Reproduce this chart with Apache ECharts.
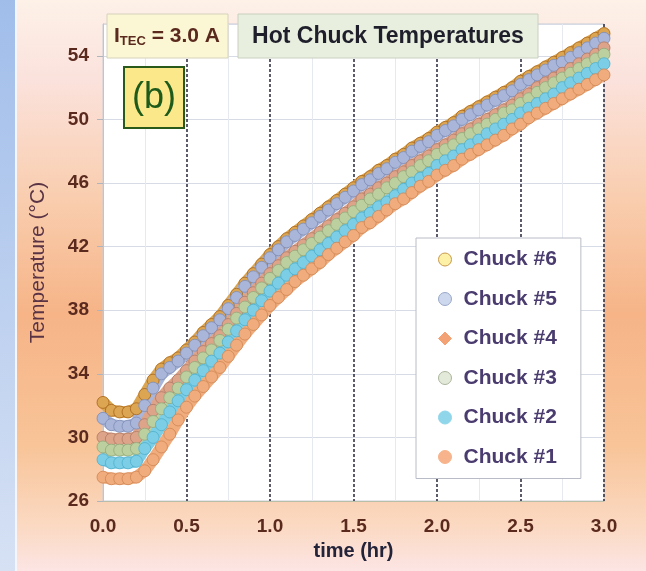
<!DOCTYPE html>
<html>
<head>
<meta charset="utf-8">
<script src="https://cdn.jsdelivr.net/npm/echarts@6/dist/echarts.min.js"></script>
<style>
html, body { margin: 0; padding: 0; }
#chart { width: 646px; height: 571px; }
</style>
</head>
<body>
<div id="chart"></div>
<script>
// time in hours
var hours = [0, 0.05, 0.1, 0.15, 0.2, 0.25, 0.3, 0.35, 0.4, 0.45,
	0.5, 0.55, 0.6, 0.65, 0.7, 0.75, 0.8, 0.85, 0.9, 0.95,
	1, 1.05, 1.1, 1.15, 1.2, 1.25, 1.3, 1.35, 1.4, 1.45,
	1.5, 1.55, 1.6, 1.65, 1.7, 1.75, 1.8, 1.85, 1.9, 1.95,
	2, 2.05, 2.1, 2.15, 2.2, 2.25, 2.3, 2.35, 2.4, 2.45,
	2.5, 2.55, 2.6, 2.65, 2.7, 2.75, 2.8, 2.85, 2.9, 2.95,
	3];

var chuck6 = [32.2, 31.7, 31.6, 31.6, 31.8, 32.7, 33.6, 34.3, 34.7, 35.0,
	35.5, 36.0, 36.6, 37.1, 37.6, 38.3, 39.0, 39.7, 40.3, 40.9,
	41.5, 42.0, 42.5, 42.9, 43.3, 43.7, 44.1, 44.5, 44.9, 45.3,
	45.7, 46.1, 46.4, 46.8, 47.1, 47.5, 47.8, 48.2, 48.5, 48.8,
	49.2, 49.5, 49.8, 50.2, 50.5, 50.8, 51.1, 51.4, 51.7, 52.0,
	52.4, 52.7, 53.0, 53.3, 53.6, 53.9, 54.2, 54.5, 54.8, 55.1,
	55.4];
var chuck5 = [31.2, 30.8, 30.7, 30.7, 30.9, 32.0, 33.1, 34.0, 34.4, 34.8,
	35.3, 35.8, 36.4, 36.9, 37.4, 38.1, 38.8, 39.5, 40.1, 40.7,
	41.3, 41.8, 42.3, 42.7, 43.1, 43.5, 43.9, 44.3, 44.7, 45.1,
	45.5, 45.9, 46.2, 46.6, 46.9, 47.3, 47.6, 48.0, 48.3, 48.6,
	49.0, 49.3, 49.6, 50.0, 50.3, 50.6, 50.9, 51.2, 51.5, 51.8,
	52.2, 52.5, 52.8, 53.1, 53.4, 53.6, 53.9, 54.2, 54.5, 54.8,
	55.1];
var chuck4 = [30.0, 29.9, 29.9, 29.9, 30.0, 30.8, 31.7, 32.5, 33.1, 33.6,
	34.2, 34.8, 35.4, 35.9, 36.4, 37.1, 37.8, 38.5, 39.1, 39.7,
	40.3, 40.8, 41.3, 41.7, 42.1, 42.5, 42.9, 43.3, 43.7, 44.1,
	44.5, 45.0, 45.3, 45.7, 46.0, 46.4, 46.7, 47.1, 47.4, 47.7,
	48.1, 48.4, 48.7, 49.1, 49.4, 49.7, 50.0, 50.3, 50.6, 50.9,
	51.3, 51.6, 52.0, 52.3, 52.6, 52.9, 53.2, 53.5, 53.8, 54.1,
	54.5];
var chuck3 = [29.4, 29.2, 29.2, 29.2, 29.3, 30.2, 31.0, 31.8, 32.5, 33.1,
	33.8, 34.4, 35.0, 35.5, 36.1, 36.8, 37.5, 38.2, 38.8, 39.4,
	40.0, 40.5, 41.0, 41.4, 41.8, 42.2, 42.6, 43.0, 43.4, 43.8,
	44.2, 44.6, 45.0, 45.3, 45.7, 46.0, 46.4, 46.7, 47.1, 47.4,
	47.8, 48.1, 48.4, 48.8, 49.1, 49.4, 49.7, 50.0, 50.4, 50.6,
	51.0, 51.3, 51.7, 52.0, 52.3, 52.6, 52.9, 53.2, 53.5, 53.8,
	54.1];
var chuck2 = [28.6, 28.4, 28.4, 28.4, 28.5, 29.3, 30.0, 30.8, 31.6, 32.3,
	33.0, 33.6, 34.2, 34.8, 35.3, 36.0, 36.7, 37.4, 38.0, 38.6,
	39.2, 39.7, 40.2, 40.6, 41.0, 41.4, 41.8, 42.2, 42.6, 43.0,
	43.4, 43.8, 44.1, 44.5, 44.8, 45.2, 45.6, 46.0, 46.3, 46.6,
	47.1, 47.4, 47.7, 48.1, 48.4, 48.7, 49.1, 49.4, 49.7, 50.0,
	50.4, 50.7, 51.0, 51.3, 51.6, 52.0, 52.3, 52.6, 52.9, 53.2,
	53.5];
var chuck1 = [27.5, 27.4, 27.4, 27.4, 27.5, 27.9, 28.6, 29.4, 30.2, 31.1,
	31.9, 32.6, 33.2, 33.8, 34.4, 35.1, 35.8, 36.5, 37.1, 37.7,
	38.3, 38.8, 39.3, 39.8, 40.2, 40.6, 41.0, 41.5, 41.9, 42.3,
	42.7, 43.2, 43.5, 43.9, 44.3, 44.7, 45.0, 45.4, 45.8, 46.1,
	46.5, 46.8, 47.1, 47.5, 47.8, 48.1, 48.4, 48.7, 49.0, 49.4,
	49.7, 50.1, 50.4, 50.7, 51.0, 51.3, 51.6, 51.9, 52.2, 52.5,
	52.8];

var names = ['Chuck #6', 'Chuck #5', 'Chuck #4', 'Chuck #3', 'Chuck #2', 'Chuck #1'];
var values = [chuck6, chuck5, chuck4, chuck3, chuck2, chuck1];

var FONT = 'Liberation Sans, Arial, sans-serif';
// band colours in the plot, and paler ones for the legend
var fills = ['#dba552', '#a9b5d9', '#dda48a', '#bccf9f', '#7ccde6', '#f0ac7c'];
var edges = ['#a8661a', '#7f8db5', '#b07a64', '#93a87a', '#4fb0cc', '#d08656'];
var legendFills = ['#fdf1a8', '#cdd8ee', '#f2a275', '#e4eada', '#8fd6ea', '#f7b48c'];
var legendEdges = ['#c99a4a', '#9aa9c8', '#f2a275', '#aab59c', '#8fd6ea', '#f7b48c'];
var legendIcons = ['circle', 'circle', 'diamond', 'circle', 'circle', 'circle'];

var chart = echarts.init(document.getElementById('chart'));

var series = [];
var legendData = [];
for (var s = 0; s < names.length; s++) {
	var pts = [];
	for (var i = 0; i < hours.length; i++) {
		pts.push([hours[i], values[s][i]]);
	}
	series.push({
		name : names[s],
		type : 'line',
		data : pts,
		symbol : 'circle',
		symbolSize : 12,
		showAllSymbol : true,
		clip : false,
		z : 2,
		lineStyle : { width : 12, color : fills[s], cap : 'round', join : 'round' },
		itemStyle : { color : fills[s], borderColor : edges[s], borderWidth : 0.8 },
		emphasis : { disabled : true }
	});
	legendData.push({
		name : names[s],
		icon : legendIcons[s],
		itemStyle : { color : legendFills[s], borderColor : legendEdges[s], borderWidth : 1 }
	});
}

var option = {
	animation : false,
	backgroundColor : new echarts.graphic.LinearGradient(0, 0, 0, 1, [
		{ offset : 0, color : '#fdf1e8' },
		{ offset : 0.14, color : '#fbe2dc' },
		{ offset : 0.35, color : '#f9cdae' },
		{ offset : 0.55, color : '#f6b487' },
		{ offset : 0.78, color : '#f8c498' },
		{ offset : 0.92, color : '#fbd9c2' },
		{ offset : 1, color : '#fce5e4' }
	]),
	graphic : [
		{ type : 'rect', z : -10, shape : { x : 0, y : 0, width : 15, height : 571 },
			style : { fill : new echarts.graphic.LinearGradient(0, 0, 0, 1, [
				{ offset : 0, color : '#a0bdea' }, { offset : 1, color : '#d6e1f4' } ]) } },
		{ type : 'rect', z : -10, shape : { x : 15, y : 0, width : 2, height : 571 },
			style : { fill : '#f4f6fb' } },
		{ type : 'rect', z : 100, shape : { x : 107, y : 14, width : 121, height : 44 },
			style : { fill : '#fbf7d4', stroke : '#d6d2bc', lineWidth : 1 } },
		{ type : 'text', z : 101, x : 167, y : 36,
			style : {
				text : '{a|I}{b|TEC}{a| = 3.0 A}',
				align : 'center', verticalAlign : 'middle',
				rich : {
					a : { fontSize : 21, fontWeight : 'bold', fontFamily : FONT, fill : '#5b2a1e' },
					b : { fontSize : 13, fontWeight : 'bold', fontFamily : FONT, fill : '#5b2a1e', padding : [10, 0, 0, 0] }
				}
			} },
		{ type : 'rect', z : 100, shape : { x : 238, y : 14, width : 300, height : 44 },
			style : { fill : '#e9efdf', stroke : '#c9d0c0', lineWidth : 1 } },
		{ type : 'text', z : 101, x : 388, y : 37,
			style : { text : 'Hot Chuck Temperatures', align : 'center', verticalAlign : 'middle',
				fontSize : 23, fontWeight : 'bold', fontFamily : FONT, fill : '#1f1f2b' } },
		{ type : 'rect', z : 100, shape : { x : 124, y : 67, width : 60, height : 61 },
			style : { fill : '#fbe88a', stroke : '#2a5a1a', lineWidth : 2 } },
		{ type : 'text', z : 101, x : 154, y : 98,
			style : { text : '(b)', align : 'center', verticalAlign : 'middle',
				fontSize : 36, fontFamily : FONT, fill : '#1e5a1a' } }
	],
	grid : {
		left : 103,
		right : 42,
		top : 24,
		bottom : 70,
		show : true,
		backgroundColor : '#ffffff',
		borderColor : '#c8cdd8',
		borderWidth : 1
	},
	legend : {
		orient : 'vertical',
		left : 416,
		top : 238,
		selectedMode : false,
		backgroundColor : '#ffffff',
		borderColor : '#b9bcc6',
		borderWidth : 1,
		padding : [11, 24, 11, 22],
		itemWidth : 13,
		itemHeight : 13,
		itemGap : 18.5,
		textStyle : { color : '#4a3c6e', fontSize : 21, fontWeight : 'bold', fontFamily : FONT,
			lineHeight : 21, padding : [0, 0, 0, 7] },
		data : legendData
	},
	xAxis : {
		type : 'value',
		min : 0,
		max : 3,
		interval : 0.5,
		name : 'time (hr)',
		nameLocation : 'middle',
		nameGap : 40,
		nameTextStyle : { color : '#23233a', fontSize : 20, fontWeight : 'bold', fontFamily : FONT },
		axisLine : { lineStyle : { color : '#b8bfa8' } },
		axisTick : { show : false },
		axisLabel : {
			color : '#5b2a1e', fontSize : 19, fontWeight : 'bold', fontFamily : FONT, margin : 16,
			formatter : function(v) { return v.toFixed(1); }
		},
		splitLine : { show : true, showMinLine : false,
			lineStyle : { color : '#262638', type : [3, 2], width : 1.5 } },
		minorTick : { show : false, splitNumber : 2 },
		minorSplitLine : { show : true, lineStyle : { color : '#e6e9f0' } }
	},
	yAxis : {
		type : 'value',
		min : 26,
		max : 56,
		interval : 4,
		name : 'Temperature (°C)',
		nameLocation : 'middle',
		nameGap : 54,
		nameTextStyle : { color : '#5a3444', fontSize : 21, fontFamily : FONT },
		axisLine : { show : true, lineStyle : { color : '#c0c4cc' } },
		axisTick : { show : true, length : 6, lineStyle : { color : '#b0b4bc' } },
		axisLabel : {
			color : '#5b2a1e', fontSize : 19, fontWeight : 'bold', fontFamily : FONT, margin : 14,
			showMaxLabel : false,
			formatter : function(v) { return v > 55 ? '' : v; }
		},
		splitLine : { show : true, lineStyle : { color : '#d7dbe6' } }
	},
	series : series
};

chart.setOption(option);
</script>
</body>
</html>
